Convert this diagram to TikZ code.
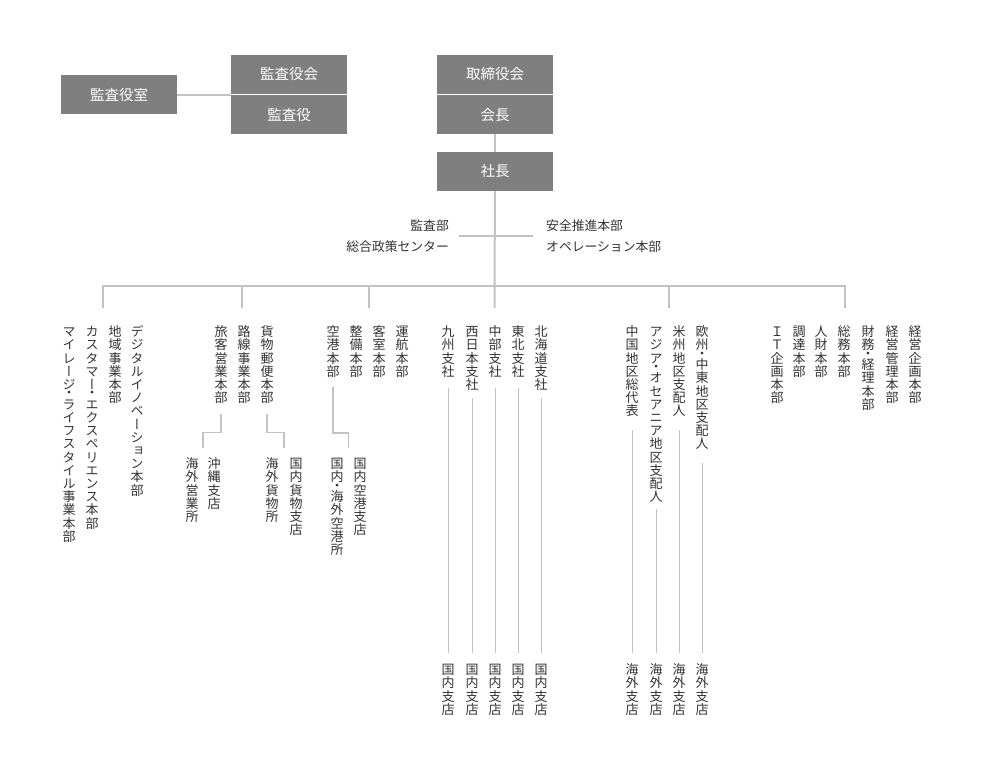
\documentclass[tikz,border=0pt]{standalone}
\usepackage{fontspec}
\setmainfont{Noto Sans CJK JP}
\newfontfamily\vfont[RawFeature=+vert]{Noto Sans CJK JP}
\usetikzlibrary{calc}
\definecolor{boxgray}{HTML}{7F7F7F}
\definecolor{linegray}{HTML}{C2C2C2}
\definecolor{txt}{HTML}{333333}

\makeatletter
\newcommand\vt[1]{\vbox{\offinterlineskip\vfont\fontsize{13}{13}\selectfont\vt@loop#1\@nil}}
\def\vt@loop#1{\ifx#1\@nil\else\vt@char{#1}\expandafter\vt@loop\fi}
\def\vt@dot{・}
\def\vt@char#1{\def\vt@tmp{#1}%
  \ifx\vt@tmp\vt@dot
    \hbox to 13pt{\hss\vbox to 6.6pt{\vss\hbox{#1}\vss}\hss}%
  \else
    \hbox to 13pt{\hss\vrule height 11.54pt depth 1.66pt width 0pt\smash{#1}\hss}%
  \fi}
\makeatother

\tikzset{
  box/.style={fill=boxgray, text=white, minimum width=116pt, minimum height=38.75pt,
    inner sep=0pt, font=\fontsize{14.5}{14.5}\selectfont},
  vtx/.style={anchor=north, inner sep=0pt, text=txt},
  htx/.style={inner sep=0pt, text=txt, font=\fontsize{12.8}{21}\selectfont},
  mainline/.style={draw=linegray, line width=2pt},
  subline/.style={draw=linegray, line width=1.6pt},
  thinline/.style={draw=linegray, line width=1pt},
}

\begin{document}
\begin{tikzpicture}[x=1pt, y=-1pt]
\fill[white] (0,0) rectangle (988,772);
\useasboundingbox (0,0) rectangle (988,772);

% top boxes
\node[box, minimum height=39pt] (shitsu) at (119,94.5) {監査役室};
\node[box] (yakukai) at (289,74.4) {監査役会};
\node[box] (yaku) at (289,114.6) {監査役};
\node[box] (torishimari) at (495,74.4) {取締役会};
\node[box] (kaicho) at (495,114.6) {会長};
\node[box, minimum height=39pt] (shacho) at (495,171.5) {社長};

\coordinate (kj) at ($(yakukai.south west)!0.5!(yaku.north west)$);
\draw[mainline] (shitsu.east) -- (shitsu.east -| kj);

% staff texts
\node[htx, anchor=east, align=right] (lt) at (449,236) {監査部\\総合政策センター};
\node[htx, anchor=west, align=left] (rt) at (546,236) {安全推進本部\\オペレーション本部};

% main bar coordinates
\coordinate (b1) at (103,286); \coordinate (d1) at (103,308);
\coordinate (b2) at (242,286); \coordinate (d2) at (242,308);
\coordinate (b3) at (369,286); \coordinate (d3) at (369,308);
\coordinate (b4) at (494.5,286); \coordinate (d4) at (494.5,308);
\coordinate (b5) at (669,286); \coordinate (d5) at (669,308);
\coordinate (b6) at (845,286); \coordinate (d6) at (845,308);

\draw[mainline] (kaicho.south) -- (shacho.north);
\draw[mainline] (shacho.south) -- (b4) -- (d4);
\draw[mainline] ([xshift=10pt]lt.east) -- ([xshift=-13pt]rt.west);
\draw[mainline] (d1) -- (b1) -- (b6) -- (d6);
\draw[mainline] (b2) -- (d2);
\draw[mainline] (b3) -- (d3);
\draw[mainline] (b5) -- (d5);

% group 1
\node[vtx] (g1a) at (69,325) {\vt{マイレージ・ライフスタイル事業本部}};
\node[vtx] (g1b) at (92,325) {\vt{カスタマー・エクスペリエンス本部}};
\node[vtx] (g1c) at (115,325) {\vt{地域事業本部}};
\node[vtx] (g1d) at (137,325) {\vt{デジタルイノベーション本部}};

% group 2
\node[vtx] (g2a) at (221,325) {\vt{旅客営業本部}};
\node[vtx] (g2b) at (244,325) {\vt{路線事業本部}};
\node[vtx] (g2c) at (267,325) {\vt{貨物郵便本部}};
\node[vtx] (s2a) at (214,457) {\vt{沖縄支店}};
\node[vtx] (s2b) at (192,457) {\vt{海外営業所}};
\node[vtx] (s2c) at (296,457) {\vt{国内貨物支店}};
\node[vtx] (s2d) at (272,457) {\vt{海外貨物所}};
\coordinate (j2a) at ($(s2a.north)!0.5!(s2b.north)$);
\coordinate (j2c) at ($(s2c.north)!0.5!(s2d.north)$);
\draw[subline] ([yshift=-9pt]g2a.south) -- ++(0,19) -| ([yshift=9pt]j2a);
\draw[subline] ([yshift=-9pt]g2c.south) -- ++(0,19) -| ([yshift=9pt]j2c);

% group 3
\node[vtx] (g3a) at (333,325) {\vt{空港本部}};
\node[vtx] (g3b) at (356,325) {\vt{整備本部}};
\node[vtx] (g3c) at (379,325) {\vt{客室本部}};
\node[vtx] (g3d) at (402,325) {\vt{運航本部}};
\node[vtx] (s3a) at (360,457) {\vt{国内空港支店}};
\node[vtx] (s3b) at (337,457) {\vt{国内・海外空港所}};
\coordinate (j3) at ($(s3a.north)!0.5!(s3b.north)$);
\draw[subline] ([yshift=-9pt]g3a.south) -- ++(0,46) -| ([yshift=9pt]j3);

% group 4
\node[vtx] (g4a) at (448,325) {\vt{九州支社}};
\node[vtx] (g4b) at (472,325) {\vt{西日本支社}};
\node[vtx] (g4c) at (495,325) {\vt{中部支社}};
\node[vtx] (g4d) at (518,325) {\vt{東北支社}};
\node[vtx] (g4e) at (541,325) {\vt{北海道支社}};
\node[vtx] (k4a) at (448,663) {\vt{国内支店}};
\node[vtx] (k4b) at (472,663) {\vt{国内支店}};
\node[vtx] (k4c) at (495,663) {\vt{国内支店}};
\node[vtx] (k4d) at (518,663) {\vt{国内支店}};
\node[vtx] (k4e) at (541,663) {\vt{国内支店}};
\draw[thinline] ([yshift=-10pt]g4a.south) -- ([yshift=10pt]k4a.north);
\draw[thinline] ([yshift=-7pt]g4b.south) -- ([yshift=10pt]k4b.north);
\draw[thinline] ([yshift=-10pt]g4c.south) -- ([yshift=10pt]k4c.north);
\draw[thinline] ([yshift=-10pt]g4d.south) -- ([yshift=10pt]k4d.north);
\draw[thinline] ([yshift=-7pt]g4e.south) -- ([yshift=10pt]k4e.north);

% group 5
\node[vtx] (g5a) at (632,325) {\vt{中国地区総代表}};
\node[vtx] (g5b) at (656,325) {\vt{アジア・オセアニア地区支配人}};
\node[vtx] (g5c) at (679,325) {\vt{米州地区支配人}};
\node[vtx] (g5d) at (702,325) {\vt{欧州・中東地区支配人}};
\node[vtx] (k5a) at (632,663) {\vt{海外支店}};
\node[vtx] (k5b) at (656,663) {\vt{海外支店}};
\node[vtx] (k5c) at (679,663) {\vt{海外支店}};
\node[vtx] (k5d) at (702,663) {\vt{海外支店}};
\draw[thinline] ([yshift=-12.6pt]g5a.south) -- ([yshift=10pt]k5a.north);
\draw[thinline] ([yshift=-5pt]g5b.south) -- ([yshift=10pt]k5b.north);
\draw[thinline] ([yshift=-12.6pt]g5c.south) -- ([yshift=10pt]k5c.north);
\draw[thinline] ([yshift=-12.6pt]g5d.south) -- ([yshift=10pt]k5d.north);

% group 6
\node[vtx] (g6a) at (777,325) {\vt{ＩＴ企画本部}};
\node[vtx] (g6b) at (799,325) {\vt{調達本部}};
\node[vtx] (g6c) at (821,325) {\vt{人財本部}};
\node[vtx] (g6d) at (844,325) {\vt{総務本部}};
\node[vtx] (g6e) at (868,325) {\vt{財務・経理本部}};
\node[vtx] (g6f) at (892,325) {\vt{経営管理本部}};
\node[vtx] (g6g) at (915,325) {\vt{経営企画本部}};
\end{tikzpicture}
\end{document}
